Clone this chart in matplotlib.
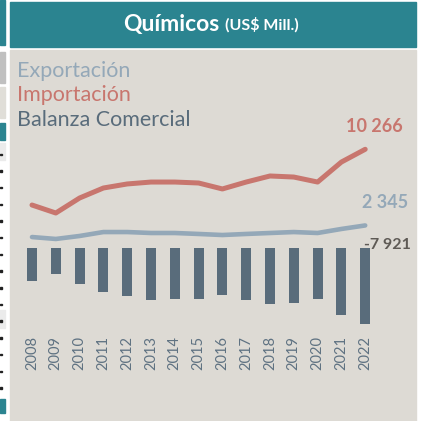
import numpy as np
import matplotlib.pyplot as plt
from matplotlib.patches import Rectangle

# data (US$ millones)
years = ['2008', '2009', '2010', '2011', '2012', '2013', '2014', '2015',
         '2016', '2017', '2018', '2019', '2020', '2021', '2022']
exportacion = [1140, 940, 1250, 1660, 1660, 1560, 1560, 1460,
               1350, 1460, 1560, 1660, 1560, 1980, 2345]
importacion = [4470, 3640, 5200, 6240, 6660, 6860, 6860, 6760,
               6140, 6860, 7490, 7380, 6860, 8940, 10266]
balanza = [-3380, -2750, -3750, -4580, -5000, -5450, -5300, -5300,
           -4850, -5400, -5850, -5720, -5300, -6960, -7921]

W, H = 425, 421
teal = '#2b8490'
bg = '#dddad4'
c_exp = '#94a8b8'
c_imp = '#c8766e'
c_bal = '#596c7b'

plt.rcParams['font.family'] = ['Lato', 'DejaVu Sans']

fig = plt.figure(figsize=(W / 100, H / 100), dpi=100)
fig.patch.set_facecolor('white')

def rect(x, y, w, h, color):
    # x,y = esquina superior izquierda en pixeles
    fig.patches.append(Rectangle((x / W, 1 - (y + h) / H), w / W, h / H,
                                 transform=fig.transFigure, color=color, zorder=-2))

# borde del panel vecino
rect(0, 0, 5, 45, teal)
rect(0, 52, 5, 31, '#c0c0c0')
rect(0, 87, 5, 31, '#e0ded8')
rect(0, 123, 5, 17, teal)
rect(0, 143, 5, 17, '#ebebeb')
rect(0, 310, 5, 18, '#ebebeb')
rect(0, 399, 5, 14, teal)
for yy in np.arange(155, 395, 16.7):
    fig.patches.append(Rectangle((0, 1 - yy / H), 1.5 / W, 1.5 / H,
                                 transform=fig.transFigure, color='#222222', zorder=-1))

# titulo y panel
rect(10, 2, 406, 45, teal)
rect(10, 50, 406, 371, bg)
fig.text(219 / W, 1 - 24 / H, 'Químicos', color='white', fontsize=16.5,
         fontweight='bold', ha='right', va='center')
fig.text(225 / W, 1 - 25 / H, '(US$ Mill.)', color='white', fontsize=11.5,
         fontweight='bold', ha='left', va='center')

fig.text(17 / W, 1 - 71 / H, 'Exportación', color=c_exp, fontsize=15.5, va='center')
fig.text(17 / W, 1 - 95 / H, 'Importación', color=c_imp, fontsize=15.5, va='center')
fig.text(17 / W, 1 - 120 / H, 'Balanza Comercial', color=c_bal, fontsize=15.5, va='center')

# ejes: cero en y=248 px, 104 por px; 2008 en x=32 px, paso 23.8 px
ax = fig.add_axes([10 / W, 0, 406 / W, 371 / H])
ax.set_facecolor('none')
step = 23.8
ax.set_xlim(-22 / step, (416 - 32) / step)
ax.set_ylim((248 - 421) * 104, (248 - 50) * 104)
ax.axis('off')

x = np.arange(len(years))
ax.bar(x, balanza, width=0.42, color=c_bal, zorder=2)
ax.plot(x, importacion, color=c_imp, lw=3.6, solid_capstyle='round',
        solid_joinstyle='round', zorder=3)
ax.plot(x, exportacion, color=c_exp, lw=3.3, solid_capstyle='round',
        solid_joinstyle='round', zorder=3)

for i, yr in enumerate(years):
    ax.text(i, (248 - 336) * 104, yr, rotation=90, ha='center', va='top',
            color='#5f7282', fontsize=10.5)

ax.text(x[-1] + 0.4, importacion[-1] + 2400, '10 266', color=c_imp,
        fontsize=13, fontweight='bold', ha='center', va='center')
ax.text(x[-1] + 0.85, exportacion[-1] + 2400, '2 345', color=c_exp,
        fontsize=13, fontweight='bold', ha='center', va='center')
ax.text(x[-1] + 0.95, 350, '-7 921', color='#5e5a55',
        fontsize=11.5, fontweight='bold', ha='center', va='center')

fig.savefig('out.png', dpi=100)
